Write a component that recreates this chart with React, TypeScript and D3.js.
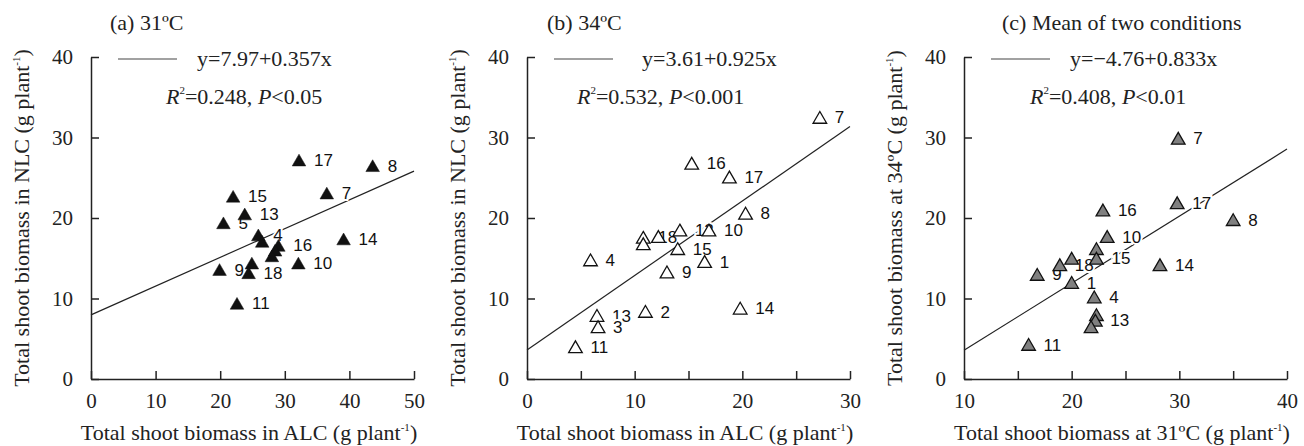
import React, { useRef, useEffect } from "react";
import * as d3 from "d3";

// genotype labels ("" where the label is hidden under other marks)
const aTags = ["17", "8", "15", "7", "13", "5", "4", "", "14", "16", "", "", "10", "9", "", "18", "11"];
const aAlc = [32.2, 43.6, 22.0, 36.5, 23.8, 20.5, 25.9, 26.5, 39.1, 29.0, 28.5, 28.0, 32.1, 19.9, 24.9, 24.4, 22.6];
const aNlc = [27.2, 26.5, 22.7, 23.1, 20.5, 19.4, 17.9, 17.1, 17.4, 16.6, 16.0, 15.3, 14.4, 13.6, 14.4, 13.2, 9.4];

const bTags = ["7", "16", "17", "8", "12", "10", "", "18", "", "15", "4", "1", "9", "14", "2", "13", "3", "11"];
const bAlc = [27.2, 15.3, 18.8, 20.3, 14.2, 16.9, 12.2, 10.8, 10.8, 14.0, 5.9, 16.5, 13.0, 19.8, 11.0, 6.5, 6.6, 4.5];
const bNlc = [32.5, 26.8, 25.1, 20.6, 18.5, 18.5, 17.7, 17.6, 16.8, 16.2, 14.8, 14.6, 13.3, 8.8, 8.4, 7.9, 6.5, 4.0];

const cTags = ["7", "17", "16", "8", "10", "", "15", "14", "", "18", "9", "1", "4", "", "13", "", "11"];
const c31 = [29.9, 29.8, 22.9, 35.0, 23.3, 22.3, 22.3, 28.2, 20.0, 18.9, 16.8, 20.0, 22.1, 22.3, 22.2, 21.8, 16.0];
const c34 = [29.9, 21.9, 21.0, 19.8, 17.7, 16.2, 15.0, 14.2, 15.0, 14.2, 13.0, 12.0, 10.2, 8.0, 7.3, 6.5, 4.3];

const yTicks = [0, 10, 20, 30, 40];
const aXTicks = [0, 10, 20, 30, 40, 50];
const bXTicks = [0, 5, 10, 15, 20, 25, 30];
const cXTicks = [10, 15, 20, 25, 30, 35, 40];

const intercepts = [7.97, 3.61, -4.76];
const slopes = [0.357, 0.925, 0.833];
const eqTexts = ["y=7.97+0.357x", "y=3.61+0.925x", "y=\u22124.76+0.833x"];
const r2Texts = ["0.248", "0.532", "0.408"];
const pTexts = ["0.05", "0.001", "0.01"];
const titles = ["(a) 31\u00baC", "(b) 34\u00baC", "(c) Mean of two conditions"];
const xTitles = ["Total shoot biomass in ALC (g plant", "Total shoot biomass in ALC (g plant", "Total shoot biomass at 31\u00baC (g plant"];
const yTitles = ["Total shoot biomass in NLC (g plant", "Total shoot biomass in NLC (g plant", "Total shoot biomass at 34\u00baC (g plant"];

const SERIF = "'Liberation Serif', 'Times New Roman', serif";
const SANS = "'Liberation Sans', Arial, sans-serif";

const panels = [
  { tags: aTags, xs: aAlc, ys: aNlc, domain: [0, 50], ticks: aXTicks, left: 91, fill: "#111", titleX: 110, eqX: 197, r2X: 166 },
  { tags: bTags, xs: bAlc, ys: bNlc, domain: [0, 30], ticks: bXTicks, left: 527, fill: "#fff", titleX: 547, eqX: 642, r2X: 577 },
  { tags: cTags, xs: c31, ys: c34, domain: [10, 40], ticks: cXTicks, left: 964, fill: "#808080", titleX: 1002, eqX: 1070, r2X: 1030 },
];

const App = () => {
  const ref = useRef<SVGSVGElement>(null);

  useEffect(() => {
    const svg = d3.select(ref.current);
    svg.selectAll("*").remove();

    const y = d3.scaleLinear().domain([0, 40]).range([379, 57]);
    const ink = "#222";

    panels.forEach((p, i) => {
      const x = d3.scaleLinear().domain(p.domain).range([p.left, p.left + 323]);
      const g = svg.append("g");

      // x axis, ticks pointing inward
      const xa = g
        .append("g")
        .attr("transform", `translate(0,${y(0)})`)
        .call(
          d3
            .axisBottom(x)
            .tickValues(p.ticks)
            .tickSize(-8)
            .tickSizeOuter(0)
            .tickPadding(14)
            .tickFormat((d: any) => (d % 10 === 0 ? String(d) : ""))
        );
      const ya = g
        .append("g")
        .attr("transform", `translate(${p.left},0)`)
        .call(d3.axisLeft(y).tickValues(yTicks).tickSize(-8).tickSizeOuter(0).tickPadding(18));

      [xa, ya].forEach((ax) => {
        ax.selectAll("path,line").attr("stroke", ink).attr("stroke-width", 1.5);
        ax.selectAll("text").attr("fill", ink).style("font-family", SERIF).style("font-size", "21px");
      });

      // regression line
      const line = d3
        .line<number>()
        .x((d) => x(d))
        .y((d) => y(intercepts[i] + slopes[i] * d));
      g.append("path")
        .attr("d", line(p.domain))
        .attr("fill", "none")
        .attr("stroke", ink)
        .attr("stroke-width", 1.2);

      // legend
      g.append("line")
        .attr("x1", p.left + 27)
        .attr("x2", p.left + 86)
        .attr("y1", 59)
        .attr("y2", 59)
        .attr("stroke", "#444")
        .attr("stroke-width", 1.2);
      g.append("text")
        .attr("x", p.eqX)
        .attr("y", 66)
        .style("font-family", SERIF)
        .style("font-size", "22px")
        .attr("fill", ink)
        .text(eqTexts[i]);
      const r2 = g
        .append("text")
        .attr("x", p.r2X)
        .attr("y", 104)
        .style("font-family", SERIF)
        .style("font-size", "22px")
        .attr("fill", ink);
      r2.append("tspan").style("font-style", "italic").text("R");
      r2.append("tspan").attr("dx", 0).attr("dy", -10).style("font-size", "11px").text("2");
      r2.append("tspan").attr("dy", 10).text(`=${r2Texts[i]}, `);
      r2.append("tspan").style("font-style", "italic").text("P");
      r2.append("tspan").text(`<${pTexts[i]}`);

      // title
      g.append("text")
        .attr("x", p.titleX)
        .attr("y", 30)
        .style("font-family", SERIF)
        .style("font-size", "22px")
        .attr("fill", ink)
        .text(titles[i]);

      // axis titles
      const xt = g
        .append("text")
        .attr("x", p.left + 158)
        .attr("y", 440)
        .attr("text-anchor", "middle")
        .style("font-family", SERIF)
        .style("font-size", "22px")
        .attr("fill", ink);
      xt.append("tspan").text(xTitles[i]);
      xt.append("tspan").attr("dy", -9).style("font-size", "11px").text("-1");
      xt.append("tspan").attr("dy", 9).text(")");

      const yt = g
        .append("text")
        .attr("transform", `translate(${p.left - 62},${(y(0) + y(40)) / 2}) rotate(-90)`)
        .attr("text-anchor", "middle")
        .style("font-family", SERIF)
        .style("font-size", "22px")
        .attr("fill", ink);
      yt.append("tspan").text(yTitles[i]);
      yt.append("tspan").attr("dy", -9).style("font-size", "11px").text("-1");
      yt.append("tspan").attr("dy", 9).text(")");

      // point labels with white halo
      const idx = d3.range(p.xs.length);
      g.append("g")
        .selectAll("text")
        .data(idx)
        .join("text")
        .attr("x", (k) => x(p.xs[k]) + 15)
        .attr("y", (k) => y(p.ys[k]))
        .attr("dy", "0.36em")
        .style("font-family", SANS)
        .style("font-size", "17px")
        .attr("fill", "#111")
        .attr("stroke", "#fff")
        .attr("stroke-width", 4)
        .attr("paint-order", "stroke")
        .text((k) => p.tags[k]);

      // triangles
      const size = 80;
      const half = Math.sqrt(size / (Math.sqrt(3) * 3)) / 2;
      const sym = d3.symbol().type(d3.symbolTriangle).size(size);
      g.append("g")
        .selectAll("path")
        .data(idx)
        .join("path")
        .attr("d", sym() as string)
        .attr("transform", (k) => `translate(${x(p.xs[k])},${y(p.ys[k]) + half})`)
        .attr("fill", p.fill)
        .attr("stroke", "#111")
        .attr("stroke-width", i === 0 ? 0.5 : 1.3);
    });
  }, []);

  return (
    <svg
      ref={ref}
      width={1304}
      height={446}
      style={{ position: "absolute", left: 0, top: 0, background: "#fff" }}
    ></svg>
  );
};

export default App;
